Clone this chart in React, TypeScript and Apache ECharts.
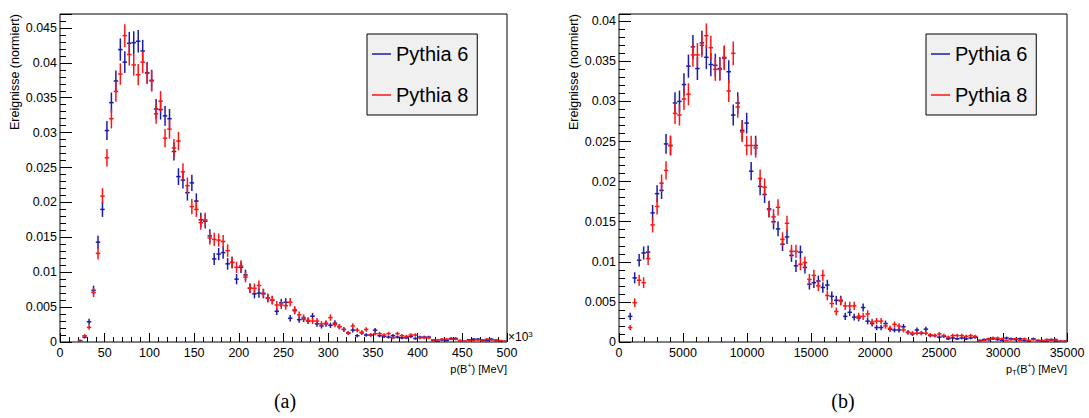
import React, { useEffect, useRef } from "react";
import * as echarts from "echarts";

// ---- data (normalised histogram contents, 100 bins each) ----
const leftBinWidth = 5; // in 10^3 MeV, axis 0..500
const rightBinWidth = 350; // MeV, axis 0..35000

const leftPythia6 = [
  0, 0, 0, 0, 0.0002, 0.0007, 0.0029, 0.0074, 0.0143, 0.019,
  0.0303, 0.0343, 0.0374, 0.0419, 0.0401, 0.0428, 0.0429, 0.0431, 0.0417, 0.0386,
  0.0375, 0.0334, 0.0333, 0.0324, 0.032, 0.0273, 0.0237, 0.0232, 0.0214, 0.0228,
  0.0202, 0.0175, 0.0173, 0.0152, 0.0119, 0.0126, 0.0128, 0.0112, 0.0114, 0.009,
  0.0107, 0.0096, 0.0077, 0.0069, 0.007, 0.0069, 0.0063, 0.006, 0.0044, 0.0056,
  0.0057, 0.0034, 0.0045, 0.0032, 0.0033, 0.003, 0.0037, 0.0026, 0.0023, 0.0026,
  0.0024, 0.0027, 0.0022, 0.0018, 0.0013, 0.0017, 0.0009, 0.0013, 0.001, 0.001,
  0.0017, 0.0009, 0.0008, 0.0007, 0.0009, 0.0007, 0.0006, 0.0006, 0.0008, 0.0005,
  0.0007, 0.0007, 0.0007, 0.0002, 0.0001, 0.0003, 0.0002, 0.0005, 0.0005, 0.0002,
  0.0001, 0.0003, 0.0004, 0.0004, 0.0002, 0.0002, 0.0004, 0.0002, 0.0001, 0.0001,
];
const leftPythia8 = [
  0, 0, 0, 0, 0.0001, 0.0009, 0.0021, 0.0071, 0.0127, 0.0209,
  0.0264, 0.032, 0.0359, 0.0384, 0.0439, 0.0412, 0.0397, 0.0383, 0.0401, 0.0385,
  0.0374, 0.0327, 0.0345, 0.0292, 0.0305, 0.0278, 0.0288, 0.0244, 0.0224, 0.0194,
  0.019, 0.0171, 0.0175, 0.0149, 0.0147, 0.0146, 0.0144, 0.0131, 0.0114, 0.0107,
  0.0109, 0.0093, 0.0077, 0.0077, 0.0081, 0.007, 0.0063, 0.006, 0.0053, 0.0053,
  0.0052, 0.0057, 0.0046, 0.0039, 0.0035, 0.0031, 0.003, 0.003, 0.0026, 0.0027,
  0.0035, 0.0025, 0.0022, 0.0018, 0.0013, 0.0023, 0.0017, 0.0014, 0.0018, 0.001,
  0.0012, 0.0012, 0.001, 0.0012, 0.0006, 0.0012, 0.0009, 0.0008, 0.001, 0.001,
  0.0006, 0.0006, 0.0006, 0.0003, 0.0003, 0.0004, 0.0004, 0.0004, 0.0004, 0.0002,
  0.0001, 0.0002, 0.0002, 0.0003, 0.0003, 0.0004, 0.0003, 0.0003, 0.0002, 0.0001,
];
const rightPythia6 = [
  0, 0, 0.0032, 0.008, 0.0102, 0.0111, 0.0112, 0.0161, 0.0185, 0.0189,
  0.0247, 0.0245, 0.0298, 0.03, 0.0321, 0.0344, 0.0368, 0.0341, 0.0373, 0.0355,
  0.0346, 0.0345, 0.0341, 0.0354, 0.0337, 0.0283, 0.0298, 0.0264, 0.0273, 0.0213,
  0.0245, 0.0194, 0.0184, 0.0166, 0.015, 0.0141, 0.0122, 0.0131, 0.0108, 0.0095,
  0.0112, 0.0093, 0.0072, 0.0074, 0.0076, 0.0068, 0.0071, 0.0057, 0.0052, 0.0052,
  0.0032, 0.0037, 0.0031, 0.003, 0.0043, 0.0026, 0.0023, 0.0018, 0.0018, 0.0023,
  0.0016, 0.0015, 0.0015, 0.0019, 0.0012, 0.001, 0.0015, 0.0011, 0.0016, 0.0008,
  0.0008, 0.0006, 0.0007, 0.0004, 0.0005, 0.0004, 0.0005, 0.0004, 0.0005, 0.0006,
  0.0002, 0.0003, 0.0003, 0.0004, 0.0003, 0.0002, 0.0005, 0.0004, 0.0003, 0.0004,
  0.0002, 0.0001, 0.0004, 0.0002, 0.0001, 0.0001, 0.0003, 0.0001, 0.0001, 0.0001,
];
const rightPythia8 = [
  0, 0, 0.0018, 0.0049, 0.0077, 0.0074, 0.0104, 0.0146, 0.0169, 0.0198,
  0.0214, 0.0245, 0.0285, 0.0283, 0.0303, 0.0309, 0.0358, 0.0358, 0.037, 0.0382,
  0.0367, 0.034, 0.034, 0.0355, 0.0313, 0.036, 0.0293, 0.0262, 0.0245, 0.0245,
  0.0242, 0.0204, 0.0193, 0.0165, 0.0156, 0.0168, 0.0128, 0.0148, 0.0113, 0.0113,
  0.0097, 0.0099, 0.0078, 0.0083, 0.007, 0.0083, 0.0058, 0.0048, 0.0038, 0.0051,
  0.0045, 0.0045, 0.0045, 0.0032, 0.0032, 0.0035, 0.0025, 0.0026, 0.0026, 0.002,
  0.0017, 0.0022, 0.002, 0.0015, 0.0012, 0.0011, 0.0011, 0.0011, 0.0011, 0.0009,
  0.0008, 0.001, 0.0008, 0.0006, 0.0008, 0.0008, 0.0008, 0.0007, 0.0008, 0.0007,
  0.0001, 0.0002, 0.0004, 0.0005, 0.0005, 0.0004, 0.0002, 0.0003, 0.0004, 0.0002,
  0.0004, 0.0002, 0.0003, 0.0001, 0.0002, 0.0003, 0.0002, 0.0003, 0.0001, 0.0001,
];

const seriesNames = ["Pythia 6", "Pythia 8"];
const seriesColors = ["#1c1ca6", "#ff1414"];

// statistical (Poisson) error scale for a normalised histogram: sigma = k*sqrt(content)
const statErrScale = 0.0078;

const leftXRange = [0, 500];
const rightXRange = [0, 35000];
const leftYMax = 0.047;
const rightYMax = 0.0409;

const FONT = "'Liberation Sans', Arial, Helvetica, sans-serif";

function toPoints(values: number[], binWidth: number) {
  const pts: number[][] = [];
  values.forEach((v, i) => {
    if (v > 0) pts.push([binWidth * (i + 0.5), v, statErrScale * Math.sqrt(v)]);
  });
  return pts;
}

function makeRender(halfBin: number) {
  return (params: any, api: any) => {
    const x = api.value(0);
    const y = api.value(1);
    const e = api.value(2);
    const l = api.coord([x - halfBin, y]);
    const r = api.coord([x + halfBin, y]);
    const t = api.coord([x, y + e]);
    const b = api.coord([x, y - e]);
    const style = { stroke: api.visual("color"), lineWidth: 1.5 };
    return {
      type: "group",
      children: [
        { type: "line", shape: { x1: l[0], y1: l[1], x2: r[0], y2: r[1] }, style },
        { type: "line", shape: { x1: t[0], y1: t[1], x2: b[0], y2: b[1] }, style },
      ],
    };
  };
}

function yFormatter(v: number) {
  const q = v / 0.005;
  if (Math.abs(q - Math.round(q)) > 1e-6) return "";
  return String(+v.toFixed(3));
}

function xAxisDef(grid: number, range: number[], interval: number) {
  return {
    type: "value",
    gridIndex: grid,
    min: range[0],
    max: range[1],
    interval,
    axisLine: { show: false },
    splitLine: { show: false },
    axisTick: { show: true, inside: true, length: 9, lineStyle: { color: "#000", width: 1 } },
    minorTick: { show: true, splitNumber: 5, length: 5, lineStyle: { color: "#000", width: 1 } },
    axisLabel: {
      margin: 4,
      color: "#000",
      fontSize: 12.5,
      fontFamily: FONT,
      formatter: (v: number) => String(Math.round(v)),
    },
  };
}

function yAxisMajor(grid: number, max: number) {
  return {
    type: "value",
    gridIndex: grid,
    position: "left",
    min: 0,
    max,
    interval: 0.005,
    axisLine: { show: false },
    splitLine: { show: false },
    axisTick: { show: true, inside: true, length: 12, lineStyle: { color: "#000", width: 1 } },
    axisLabel: { margin: 3, color: "#000", fontSize: 12.5, fontFamily: FONT, formatter: yFormatter },
  };
}

function yAxisMinor(grid: number, max: number) {
  return {
    type: "value",
    gridIndex: grid,
    position: "left",
    offset: 0,
    min: 0,
    max,
    interval: 0.001,
    axisLine: { show: false },
    splitLine: { show: false },
    axisTick: { show: true, inside: true, length: 6, lineStyle: { color: "#000", width: 1 } },
    axisLabel: { show: false },
  };
}

function legendDef(left: number) {
  return {
    left,
    top: 34,
    orient: "vertical",
    data: seriesNames.map((n) => ({ name: n, icon: "rect" })),
    backgroundColor: "#f0f0f0",
    borderColor: "#000",
    borderWidth: 1,
    borderRadius: 0,
    padding: [10, 9, 10, 5],
    itemWidth: 19,
    itemHeight: 1.5,
    itemGap: 21,
    selectedMode: false,
    textStyle: { fontSize: 20, color: "#000", fontFamily: FONT, padding: [0, 0, 0, 0] },
  };
}

const rich = {
  n: { fontSize: 11, fontFamily: FONT, fill: "#000", lineHeight: 14 },
  sup: { fontSize: 7, fontFamily: FONT, fill: "#000", lineHeight: 9, verticalAlign: "top" },
  sub: { fontSize: 7, fontFamily: FONT, fill: "#000", lineHeight: 9, verticalAlign: "bottom" },
  e: { fontSize: 12, fontFamily: FONT, fill: "#000", lineHeight: 14 },
  esup: { fontSize: 8, fontFamily: FONT, fill: "#000", lineHeight: 9, verticalAlign: "top" },
};

export default function App() {
  const ref = useRef<HTMLDivElement>(null);
  useEffect(() => {
    if (!ref.current) return;
    const chart = echarts.init(ref.current, undefined, { renderer: "svg" });
    const yTitleStyle = {
      text: "Ereignisse (normiert)",
      fontSize: 12.5,
      fontFamily: FONT,
      fill: "#000",
      align: "right",
      verticalAlign: "middle",
    };
    const captionFont = "'Liberation Serif', 'DejaVu Serif', serif";
    chart.setOption({
      animation: false,
      backgroundColor: "#fff",
      grid: [
        { left: 60, top: 14, width: 447, height: 328, show: true, borderColor: "#000", borderWidth: 1, backgroundColor: "transparent" },
        { left: 619, top: 14, width: 448, height: 328, show: true, borderColor: "#000", borderWidth: 1, backgroundColor: "transparent" },
      ],
      xAxis: [xAxisDef(0, leftXRange, 50), xAxisDef(1, rightXRange, 5000)],
      yAxis: [yAxisMajor(0, leftYMax), yAxisMinor(0, leftYMax), yAxisMajor(1, rightYMax), yAxisMinor(1, rightYMax)],
      legend: [legendDef(367), legendDef(926)],
      series: [
        { name: seriesNames[0], type: "custom", xAxisIndex: 0, yAxisIndex: 0, clip: true, itemStyle: { color: seriesColors[0] }, renderItem: makeRender(leftBinWidth / 2), data: toPoints(leftPythia6, leftBinWidth) },
        { name: seriesNames[1], type: "custom", xAxisIndex: 0, yAxisIndex: 0, clip: true, itemStyle: { color: seriesColors[1] }, renderItem: makeRender(leftBinWidth / 2), data: toPoints(leftPythia8, leftBinWidth) },
        { name: seriesNames[0], type: "custom", xAxisIndex: 1, yAxisIndex: 2, clip: true, itemStyle: { color: seriesColors[0] }, renderItem: makeRender(rightBinWidth / 2), data: toPoints(rightPythia6, rightBinWidth) },
        { name: seriesNames[1], type: "custom", xAxisIndex: 1, yAxisIndex: 2, clip: true, itemStyle: { color: seriesColors[1] }, renderItem: makeRender(rightBinWidth / 2), data: toPoints(rightPythia8, rightBinWidth) },
      ],
      graphic: [
        { type: "text", x: 15, y: 14, rotation: Math.PI / 2, style: { ...yTitleStyle } },
        { type: "text", x: 574, y: 14, rotation: Math.PI / 2, style: { ...yTitleStyle } },
        {
          type: "text", x: 507, y: 369,
          style: { text: "{n|p(B}{sup|+}{n|) [MeV]}", rich, align: "right", verticalAlign: "middle" },
        },
        {
          type: "text", x: 1067, y: 369,
          style: { text: "{n|p}{sub|T}{n|(B}{sup|+}{n|) [MeV]}", rich, align: "right", verticalAlign: "middle" },
        },
        {
          type: "text", x: 508, y: 337,
          style: { text: "{e|×10}{esup|3}", rich, align: "left", verticalAlign: "middle" },
        },
        { type: "text", x: 285, y: 401, style: { text: "(a)", fontSize: 20, fontFamily: captionFont, fill: "#000", align: "center", verticalAlign: "middle" } },
        { type: "text", x: 843, y: 401, style: { text: "(b)", fontSize: 20, fontFamily: captionFont, fill: "#000", align: "center", verticalAlign: "middle" } },
      ],
    });
    return () => chart.dispose();
  }, []);
  return (
    <div
      ref={ref}
      style={{ position: "absolute", left: 0, top: 0, width: 1089, height: 418, background: "#fff" }}
    />
  );
}
